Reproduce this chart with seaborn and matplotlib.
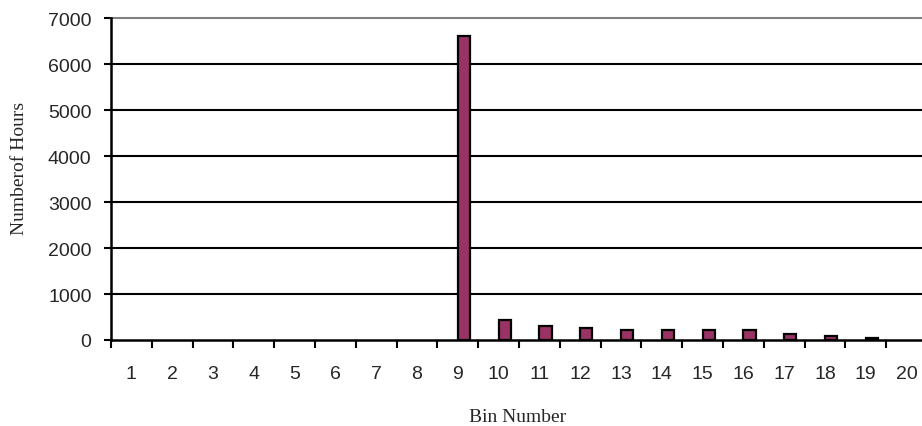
import matplotlib
matplotlib.use("Agg")
import matplotlib.pyplot as plt
import seaborn as sns
import pandas as pd
import numpy as np

bins = [str(i) for i in range(1, 21)]
hours = [0, 0, 0, 0, 0, 0, 0, 0, 6620, 440, 310, 270, 225, 225, 225, 225, 140, 95, 50, 0]
y_ticks = [0, 1000, 2000, 3000, 4000, 5000, 6000, 7000]

df = pd.DataFrame({
    "Bin": bins * 2,
    "Series": ["blank"] * len(bins) + ["Hours"] * len(bins),
    "Value": [np.nan] * len(bins) + hours,
})

sns.set_theme(style="white")
plt.rcParams["font.family"] = ["Liberation Sans", "DejaVu Sans"]

fig = plt.figure(figsize=(9.22, 4.27), dpi=100)
W, H = 922, 427
ax = fig.add_axes([111 / W, 1 - 341 / H, (927 - 111) / W, (341 - 19.3) / H])

sns.barplot(data=df, x="Bin", y="Value", hue="Series", hue_order=["blank", "Hours"],
            order=bins, palette={"blank": "#993366", "Hours": "#993366"},
            width=0.6, dodge=True, edgecolor="black", linewidth=1.6,
            saturation=1, legend=False, ax=ax, zorder=3)

# Zero-height bars are invisible in the original (no edge bump on the baseline)
for p in ax.patches:
    h = p.get_height()
    if not np.isfinite(h) or h == 0:
        p.set_linewidth(0)

ax.set_ylim(0, 7000)
ax.set_xlim(-0.5, 19.5)
ax.set_yticks(y_ticks)
ax.set_yticklabels([str(v) for v in y_ticks], fontsize=14)
for v in y_ticks[1:-1]:
    ax.axhline(v, color="black", linewidth=1.5, zorder=1)
ax.axhline(7000, color="#808080", linewidth=1.5, zorder=1, clip_on=False)

ax.set_xticks(range(20))
ax.set_xticklabels(bins, fontsize=14)
ax.set_xticks(np.arange(-0.5, 20, 1), minor=True)
ax.tick_params(axis="x", which="major", length=0, pad=18)
ax.tick_params(axis="x", which="minor", length=6, width=1.5, color="black", direction="out", bottom=True)
ax.tick_params(axis="y", which="major", length=5, width=1.5, color="black", direction="out", left=True, pad=9)

for s in ["top", "right"]:
    ax.spines[s].set_visible(False)
for s in ["left", "bottom"]:
    ax.spines[s].set_color("black")
    ax.spines[s].set_linewidth(1.8)
    ax.spines[s].set_zorder(4)

ax.set_xlabel("Bin Number", fontsize=14, family=["Liberation Serif", "DejaVu Serif"])
ax.set_ylabel("Numberof Hours", fontsize=14, family=["Liberation Serif", "DejaVu Serif"])
ax.xaxis.set_label_coords((518 - 111) / 816, -(418 - 341) / 321.7)
ax.yaxis.set_label_coords((20 - 111) / 816, (341 - 168) / 321.7)
ax.xaxis.label.set_va("center")
ax.yaxis.label.set_va("center")

fig.savefig("out.png", dpi=100)
